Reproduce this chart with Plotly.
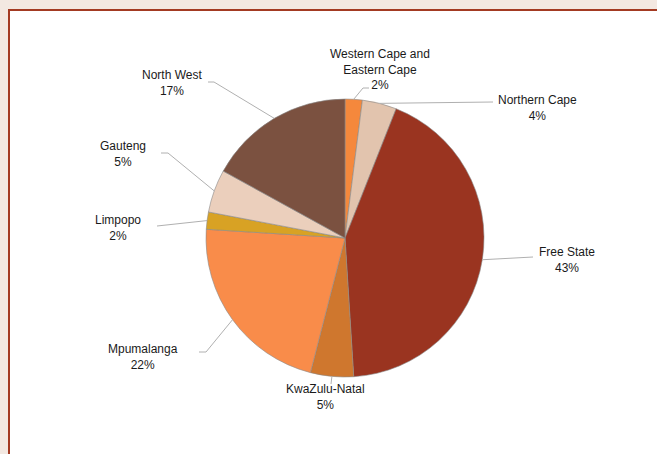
import math
import plotly.graph_objects as go

# ---- data ----
provinces = ["Western Cape and Eastern Cape", "Northern Cape", "Free State",
             "KwaZulu-Natal", "Mpumalanga", "Limpopo", "Gauteng", "North West"]
shares = [2, 4, 43, 5, 22, 2, 5, 17]
colors = ["#f5883c", "#e2c4ae", "#9a3420", "#cf772e", "#f98c4a", "#d8a224", "#ebcfbc", "#7b5140"]

# ---- layout (pixels) ----
W, H = 657, 454
CX, CY, R = 345, 238, 139
# label text centres (px) and leader-line end points near the labels
label_pos = [(380, 70), (537, 108), (567, 260), (325, 397), (143, 357), (118, 228), (123, 154), (172, 83)]
label_elbow = [[(363, 88), (369, 88)], [(493, 102)], [(533, 257)], [(331, 384)],
               [(206, 352), (199, 352)], [(157, 226)], [(168, 153), (161, 153)], [(214, 82), (208, 82)]]

def px(x):
    return x / W

def py(y):
    return 1 - y / H

fig = go.Figure(go.Pie(
    labels=provinces, values=shares, sort=False, direction="clockwise", rotation=0,
    marker=dict(colors=colors, line=dict(color="#8a8a8a", width=0.6)),
    textinfo="none", hoverinfo="label+percent", showlegend=False,
    domain=dict(x=[px(CX - R), px(CX + R)], y=[py(CY + R), py(CY - R)]),
))

shapes = [dict(type="rect", xref="paper", yref="paper", x0=px(9), x1=px(W + 20), y0=py(H + 20), y1=py(10),
               fillcolor="white", line=dict(color="#a33a22", width=2), layer="below")]
annotations = []
total = sum(shares)
cum = 0
for i, (name, v) in enumerate(zip(provinces, shares)):
    mid = (cum + v / 2) / total * 2 * math.pi
    cum += v
    ex, ey = CX + R * math.sin(mid), CY - R * math.cos(mid)
    pts = [(ex, ey)] + label_elbow[i]
    path = "M " + " L ".join(f"{px(x)},{py(y)}" for x, y in pts)
    shapes.append(dict(type="path", xref="paper", yref="paper", path=path,
                       line=dict(color="#b0b0b0", width=1)))
    lx, ly = label_pos[i]
    txt = "Western Cape and<br>Eastern Cape" if i == 0 else name
    annotations.append(dict(x=px(lx), y=py(ly), xref="paper", yref="paper",
                            text=f"{txt}<br>{round(v / total * 100)}%", showarrow=False,
                            xanchor="center", yanchor="middle", align="center",
                            font=dict(family="Liberation Sans, Arial", size=12, color="#1a1a1a")))

fig.update_layout(width=W, height=H, margin=dict(l=0, r=0, t=0, b=0),
                  paper_bgcolor="#f3e8e1", plot_bgcolor="white",
                  shapes=shapes, annotations=annotations)
fig.write_html("out.html", config={"displayModeBar": False},
               post_script="document.body.style.margin='0';document.body.style.overflow='hidden';")
